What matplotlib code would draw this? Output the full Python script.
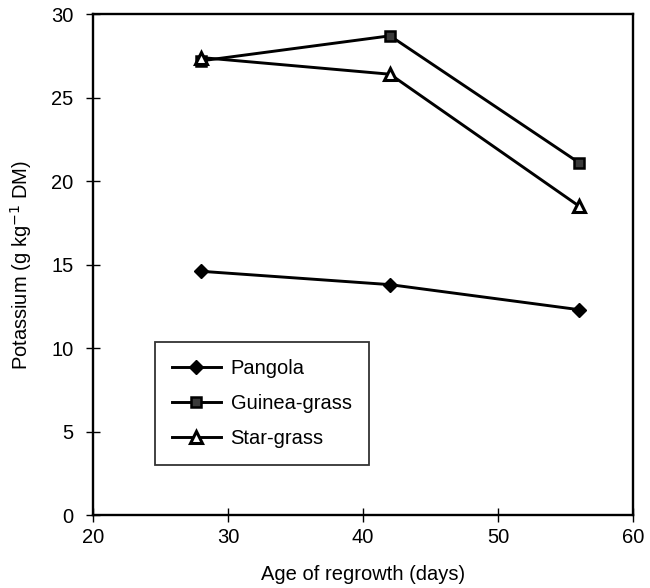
import matplotlib
matplotlib.use("Agg")
import matplotlib.pyplot as plt

plt.rcParams['font.family'] = ['Liberation Sans', 'DejaVu Sans']

days = [28, 42, 56]
pangola = [14.6, 13.8, 12.3]
guinea_grass = [27.2, 28.7, 21.1]
star_grass = [27.4, 26.4, 18.5]

x_ticks = [20, 30, 40, 50, 60]
y_ticks = [0, 5, 10, 15, 20, 25, 30]

fig = plt.figure(figsize=(6.5, 5.88), dpi=100)
ax = fig.add_axes([0.143, 0.124, 0.831, 0.852])

ax.plot(days, pangola, color='black', lw=2.1, marker='D', ms=7.5,
        mfc='black', mec='black', label='Pangola')
ax.plot(days, guinea_grass, color='black', lw=2.1, marker='s', ms=7.5,
        mfc='#3a3a3a', mec='black', mew=1.8, label='Guinea-grass')
ax.plot(days, star_grass, color='black', lw=2.1, marker='^', ms=8,
        mfc='white', mec='black', mew=2.2, label='Star-grass')

ax.set_xlim(20, 60)
ax.set_ylim(0, 30)
ax.set_xticks(x_ticks)
ax.set_yticks(y_ticks)
ax.tick_params(direction='inout', length=10, width=1, labelsize=14.5)
ax.tick_params(axis='x', pad=4)
ax.tick_params(axis='y', pad=9)
for s in ax.spines.values():
    s.set_linewidth(1.7)

ax.set_xlabel('Age of regrowth (days)', fontsize=14.5, labelpad=13)
ax.set_ylabel('Potassium (g kg$^{-1}$ DM)', fontsize=14.5, labelpad=12)

leg = ax.legend(loc='lower left', bbox_to_anchor=(0.115, 0.1), fontsize=14.5,
                frameon=True, fancybox=False, edgecolor='black',
                handlelength=2.4, handletextpad=0.5, borderpad=0.85,
                labelspacing=0.8, borderaxespad=0)
leg.get_frame().set_linewidth(1.3)

fig.savefig('out.png', dpi=100)
